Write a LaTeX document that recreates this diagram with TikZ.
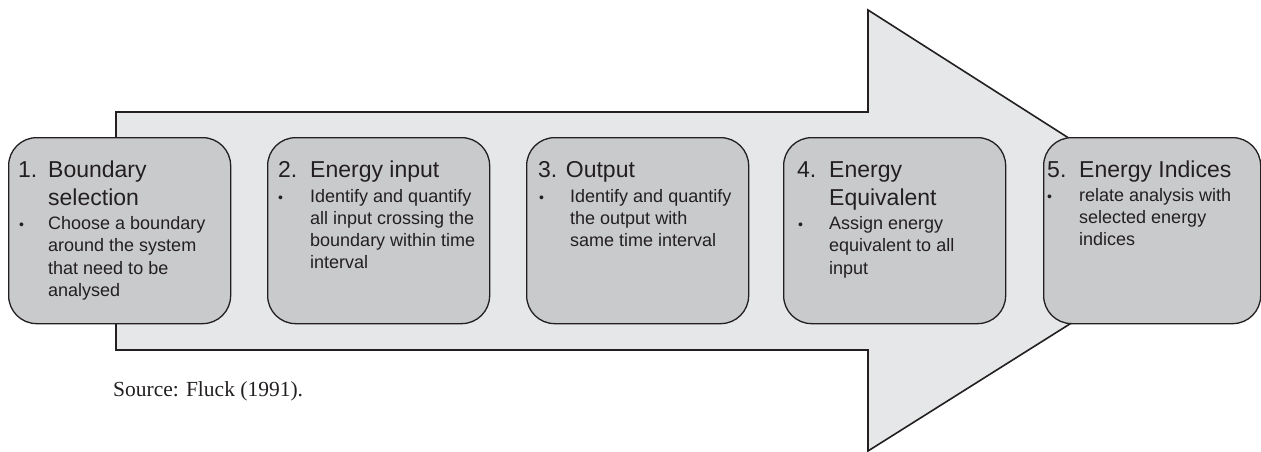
\documentclass[tikz,border=0pt]{standalone}
\usepackage{fontspec}
\setmainfont{Liberation Sans}
\newfontfamily\srcfont{Liberation Serif}
\definecolor{boxfill}{HTML}{C9CACC}
\definecolor{arrowfill}{HTML}{E6E7E8}
\definecolor{edge}{HTML}{231F20}
\definecolor{txt}{HTML}{231F20}
\tikzset{
  stepbox/.style={draw=edge, line width=1.3pt, fill=boxfill, rounded corners=28pt,
    minimum width=222pt, minimum height=186pt, inner sep=0pt, anchor=north west},
  ttl/.style={anchor=base west, inner sep=0pt, text=txt, font=\fontsize{23}{28}\selectfont},
  bul/.style={anchor=base west, inner sep=0pt, text=txt, font=\fontsize{14}{14}\selectfont},
  body/.style={anchor=base west, inner sep=0pt, text=txt, font=\fontsize{18}{22.3}\selectfont},
  src/.style={anchor=base west, inner sep=0pt, text=txt, font=\srcfont\fontsize{21.5}{24}\selectfont},
  bigarrow/.style={draw=edge, line width=1.6pt, fill=arrowfill, line join=miter}
}
\newcommand{\lines}[2]{\parbox[t]{#1}{\raggedright #2}}
\begin{document}
\begin{tikzpicture}[x=1pt,y=-1pt]
\useasboundingbox (0,0) rectangle (1261,452);
% big arrow
\coordinate (a1) at (116,112);
\coordinate (a2) at (868,112);
\coordinate (a3) at (868,10);
\coordinate (tip) at (1216,232);
\coordinate (a5) at (868,451);
\coordinate (a6) at (868,350);
\coordinate (a7) at (116,350);
\path[bigarrow] (a1) -- (a2) -- (a3) -- (tip) -- (a5) -- (a6) -- (a7) -- cycle;
% boxes
\node[stepbox] (b1) at (8,137) {};
\node[stepbox] (b2) at (267,137) {};
\node[stepbox] (b3) at (526,137) {};
\node[stepbox] (b4) at (783,137) {};
\node[stepbox, minimum width=217pt] (b5) at (1043,137) {};
% box 1
\node[ttl] (n1) at (18,177) {1.};
\node[ttl] (t1) at (48,177) {\lines{180pt}{Boundary\\selection}};
\node[bul] (u1) at (19,229.5) {•};
\node[body] (d1) at (48,229.5) {\lines{180pt}{Choose a boundary\\around the system\\that need to be\\analysed}};
% box 2
\node[ttl] (n2) at (278,177) {2.};
\node[ttl] (t2) at (310,177) {Energy input};
\node[bul] (u2) at (278,202) {•};
\node[body] (d2) at (310,202) {\lines{180pt}{Identify and quantify\\all input crossing the\\boundary within time\\interval}};
% box 3
\node[ttl] (t3) at (538,177) {3. Output};
\node[bul] (u3) at (539,202) {•};
\node[body] (d3) at (570,202) {\lines{180pt}{Identify and quantify\\the output with\\same time interval}};
% box 4
\node[ttl] (n4) at (797,177) {4.};
\node[ttl] (t4) at (829,177) {\lines{180pt}{Energy\\Equivalent}};
\node[bul] (u4) at (798,229.5) {•};
\node[body] (d4) at (829,229.5) {\lines{180pt}{Assign energy\\equivalent to all\\input}};
% box 5
\node[ttl] (n5) at (1047,177) {5.};
\node[ttl] (t5) at (1079,177) {Energy Indices};
\node[bul] (u5) at (1047,201) {•};
\node[body] (d5) at (1079,201) {\lines{180pt}{relate analysis with\\selected energy\\indices}};
% source
\node[src] (s) at (113,396) {Source: Fluck (1991).};
\end{tikzpicture}
\end{document}
